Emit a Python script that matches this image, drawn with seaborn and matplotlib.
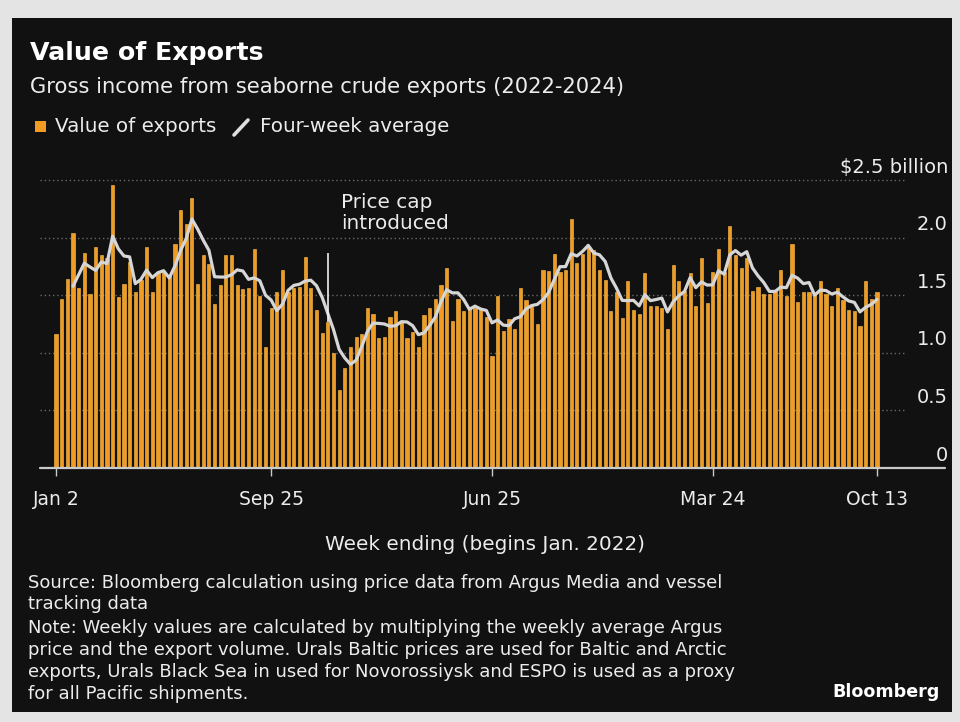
import numpy as np
import pandas as pd
import matplotlib
matplotlib.use("Agg")
import matplotlib.pyplot as plt
import matplotlib.transforms as mtransforms
from matplotlib.patches import Rectangle
from matplotlib.lines import Line2D
import seaborn as sns

# Weekly gross income from seaborne crude exports, $ billion (week ending, from Jan 2, 2022)
export_values = [
    1.16, 1.47, 1.64, 2.04, 1.56, 1.87, 1.51, 1.92, 1.85, 1.82, 2.46, 1.48,
    1.60, 1.79, 1.53, 1.63, 1.92, 1.53, 1.70, 1.70, 1.67, 1.94, 2.24, 2.12,
    2.34, 1.60, 1.85, 1.77, 1.42, 1.59, 1.85, 1.85, 1.59, 1.55, 1.56, 1.90,
    1.49, 1.05, 1.39, 1.53, 1.72, 1.53, 1.56, 1.57, 1.83, 1.56, 1.37, 1.17,
    1.27, 1.00, 0.68, 0.87, 1.05, 1.14, 1.16, 1.39, 1.34, 1.13, 1.14, 1.31,
    1.36, 1.27, 1.13, 1.18, 1.05, 1.33, 1.39, 1.47, 1.59, 1.74, 1.28, 1.47,
    1.36, 1.40, 1.39, 1.37, 1.31, 0.97, 1.49, 1.19, 1.29, 1.21, 1.56, 1.46,
    1.41, 1.25, 1.72, 1.71, 1.86, 1.70, 1.72, 2.16, 1.78, 1.86, 1.93, 1.89,
    1.72, 1.63, 1.36, 1.53, 1.30, 1.62, 1.37, 1.34, 1.69, 1.41, 1.41, 1.39,
    1.21, 1.76, 1.62, 1.54, 1.69, 1.41, 1.82, 1.43, 1.70, 1.90, 1.70, 2.10,
    1.85, 1.74, 1.82, 1.54, 1.57, 1.51, 1.51, 1.54, 1.72, 1.49, 1.94, 1.44,
    1.53, 1.53, 1.50, 1.62, 1.51, 1.41, 1.56, 1.46, 1.37, 1.36, 1.23, 1.62,
    1.47, 1.53,
]
first_week = "2022-01-02"
tick_dates = ["2022-01-02", "2022-09-25", "2023-06-25", "2024-03-24", "2024-10-13"]
tick_labels = ["Jan 2", "Sep 25", "Jun 25", "Mar 24", "Oct 13"]
price_cap_date = "2022-12-04"
y_gridlines = [0.5, 1.0, 1.5, 2.0, 2.5]
y_labels = ["0", "0.5", "1.0", "1.5", "2.0", "$2.5 billion"]

weeks = pd.date_range(first_week, periods=len(export_values), freq="7D")
df = pd.DataFrame({"week_end": weeks, "value": export_values})
df["week"] = np.arange(len(df))
df["avg4"] = df["value"].rolling(4).mean()

W, H = 960, 722
fx = lambda x: x / W
fy = lambda y: 1 - y / H

BG = "#111111"
ORANGE = "#F29B22"
TXT = "#ececec"

sns.set_theme(style="dark")
plt.rcParams["font.family"] = ["DejaVu Sans"]

fig = plt.figure(figsize=(W / 100, H / 100), dpi=100, facecolor="#e4e4e4")
fig.patches.append(Rectangle((fx(12), fy(712)), fx(952) - fx(12), fy(18) - fy(712),
                             transform=fig.transFigure, facecolor=BG, edgecolor="none", zorder=-5))

ax = fig.add_axes([fx(40), fy(468), fx(905) - fx(40), fy(178) - fy(468)])
ax.set_facecolor("none")

sns.barplot(data=df, x="week", y="value", native_scale=True, width=0.56, color=ORANGE,
            saturation=1, edgecolor="#FFC24E", linewidth=0.4, errorbar=None, ax=ax, zorder=2)
sns.lineplot(data=df, x="week", y="avg4", color="#d6d6d6", linewidth=2.3, ax=ax, zorder=3)

ax.set_xlim(-2.83, 149.95)
ax.set_ylim(0, 2.517)

# Horizontal dotted grid
ax.set_yticks(y_gridlines)
ax.yaxis.grid(True, linestyle=(0, (1, 2)), color="#6a6a6a", linewidth=1)
ax.xaxis.grid(False)
ax.tick_params(axis="y", left=False, right=False, labelleft=False)
for s in ax.spines.values():
    s.set_visible(False)
ax.axhline(0, xmin=0, xmax=(945 - 40) / (905 - 40), color="#c9c9c9", linewidth=1.6,
           clip_on=False, zorder=4)

# Right-side value labels, sitting just above each gridline
blend = mtransforms.blended_transform_factory(fig.transFigure, ax.transData)
for v, lab in zip([0] + y_gridlines, y_labels):
    ax.text(fx(948), v + 0.03, lab, transform=blend, ha="right", va="bottom",
            color=TXT, fontsize=14)

# Date ticks
tick_pos = [int(df.index[df["week_end"] == pd.Timestamp(d)][0]) for d in tick_dates]
ax.set_xticks(tick_pos)
ax.set_xticklabels(tick_labels, color=TXT, fontsize=13.5)
ax.tick_params(axis="x", bottom=True, length=6, width=1, color="#c9c9c9", pad=10)
ax.set_xlabel("")
ax.set_ylabel("")

# Price cap marker
cap_week = int(df.index[df["week_end"] == pd.Timestamp(price_cap_date)][0])
ax.vlines(cap_week, df.loc[cap_week, "value"], 1.87, color="#f0f0f0", linewidth=1.2, zorder=4)
ax.text(cap_week + 2.3, 2.214, "Price cap\nintroduced", color=TXT, fontsize=14.4,
        ha="left", va="center", linespacing=1.08)

# Titles
fig.text(fx(30), fy(53), "Value of Exports", color="white", fontsize=18.2,
         fontweight="bold", ha="left", va="center")
fig.text(fx(30), fy(87), "Gross income from seaborne crude exports (2022-2024)",
         color=TXT, fontsize=15.2, ha="left", va="center")

# Legend
fig.patches.append(Rectangle((fx(35), fy(132)), fx(46) - fx(35), fy(121) - fy(132),
                             transform=fig.transFigure, facecolor=ORANGE, edgecolor="none"))
fig.text(fx(55), fy(127), "Value of exports", color=TXT, fontsize=14.3, ha="left", va="center")
fig.lines.append(Line2D([fx(234), fx(248)], [fy(135), fy(120)], transform=fig.transFigure,
                        color="#e0e0e0", linewidth=2.6, solid_capstyle="round"))
fig.text(fx(260), fy(127), "Four-week average", color=TXT, fontsize=14.3, ha="left", va="center")

# Axis title
fig.text(fx(485), fy(545), "Week ending (begins Jan. 2022)", color=TXT, fontsize=14.4,
         ha="center", va="center")

# Source and notes
notes = [
    (583, "Source: Bloomberg calculation using price data from Argus Media and vessel"),
    (604, "tracking data"),
    (628, "Note: Weekly values are calculated by multiplying the weekly average Argus"),
    (650, "price and the export volume. Urals Baltic prices are used for Baltic and Arctic"),
    (672, "exports, Urals Black Sea in used for Novorossiysk and ESPO is used as a proxy"),
    (694, "for all Pacific shipments."),
]
for y, line in notes:
    fig.text(fx(28), fy(y), line, color=TXT, fontsize=13.0, ha="left", va="center")
fig.text(fx(940), fy(692), "Bloomberg", color="white", fontsize=12.6, fontweight="bold",
         ha="right", va="center")

fig.savefig("out.png", dpi=100, facecolor=fig.get_facecolor())
